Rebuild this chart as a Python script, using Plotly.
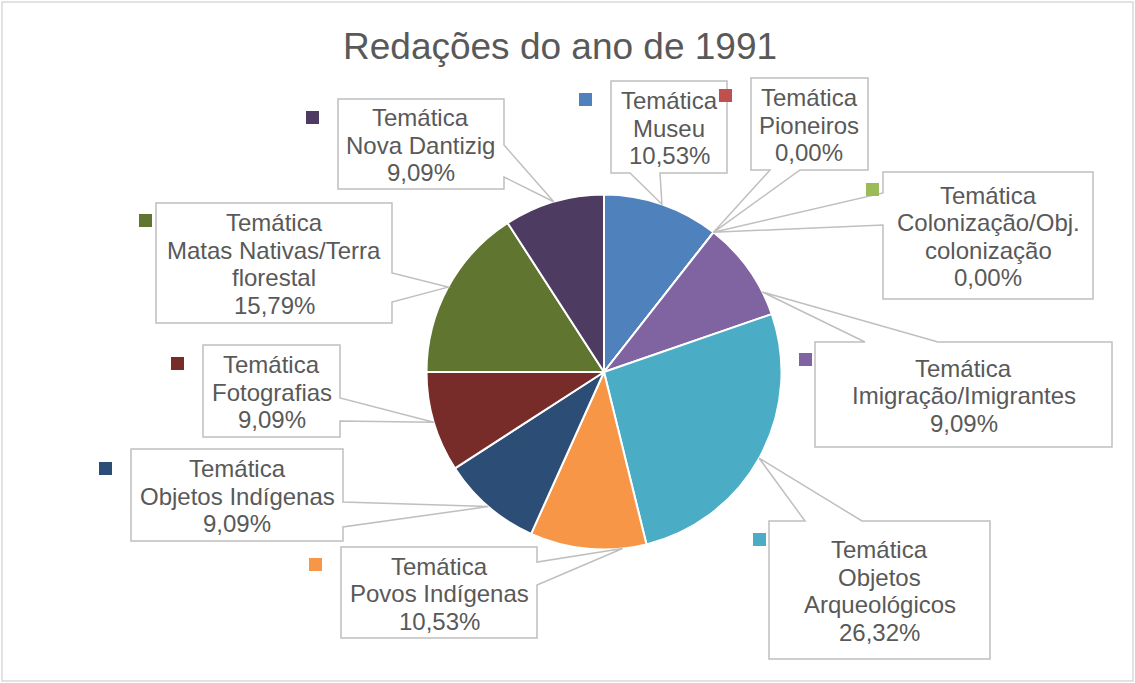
import math
import plotly.graph_objects as go

W, H = 1135, 683

# ---- data -------------------------------------------------------------
categories = [
    "Temática\nMuseu",
    "Temática\nPioneiros",
    "Temática\nColonização/Obj.\ncolonização",
    "Temática\nImigração/Imigrantes",
    "Temática\nObjetos\nArqueológicos",
    "Temática\nPovos Indígenas",
    "Temática\nObjetos Indígenas",
    "Temática\nFotografias",
    "Temática\nMatas Nativas/Terra\nflorestal",
    "Temática\nNova Dantizig",
]
values = [10.53, 0.00, 0.00, 9.09, 26.32, 10.53, 9.09, 9.09, 15.79, 9.09]
colors = ["#4F81BD", "#C0504D", "#9BBB59", "#8064A2", "#4BACC6",
          "#F79646", "#2C4D75", "#772C2A", "#5F7530", "#4D3B62"]
title_text = "Redações do ano de 1991"

# ---- layout (pixels) --------------------------------------------------
CX, CY, R = 604, 372, 177.5          # pie centre and radius
TEXT_COLOR = "#595959"
BOX_LINE = "#BFBFBF"
FONT = "Liberation Sans, Arial, sans-serif"
LABEL_SIZE = 24
LINE_STEP = 27.5
KEY = 13

# callout box, side carrying the pointer, pointer base span, tip angle shift, key square
callouts = [
    dict(box=(611, 81, 727, 173), side="bottom", base=(630, 660), shift=0, key=(579, 93)),
    dict(box=(751, 78, 868, 170), side="bottom", base=(770, 800), shift=0, key=(719, 89)),
    dict(box=(883, 172, 1093, 299), side="left", base=(193, 225), shift=0, key=(866, 183)),
    dict(box=(815, 342, 1112, 447), side="top", base=(865, 938), shift=8.7, key=(799, 353)),
    dict(box=(769, 521, 990, 659), side="top", base=(805, 862), shift=0.5, key=(753, 533)),
    dict(box=(341, 547, 537, 638), side="right", base=(562, 585), shift=-11.2, key=(309, 558)),
    dict(box=(131, 449, 343, 541), side="right", base=(502, 527), shift=0, key=(99, 462)),
    dict(box=(203, 345, 340, 437), side="right", base=(398, 421), shift=0, key=(171, 357)),
    dict(box=(156, 203, 392, 323), side="right", base=(273, 302), shift=0, key=(139, 214)),
    dict(box=(338, 99, 504, 189), side="right", base=(145, 177), shift=0, key=(306, 111)),
]


def px(x, y):
    return x / W, 1 - y / H


def fmt_pct(v):
    return f"{v:.2f}".replace(".", ",") + "%"


fig = go.Figure()

fig.add_trace(go.Pie(
    labels=[c.replace("\n", " ") for c in categories],
    values=values,
    sort=False,
    direction="clockwise",
    rotation=0,
    textinfo="none",
    hoverinfo="label+value",
    marker=dict(colors=colors, line=dict(color="white", width=2)),
    showlegend=False,
    domain=dict(x=[(CX - R) / W, (CX + R) / W],
                y=[(H - CY - R) / H, (H - CY + R) / H]),
))

shapes = []
annotations = []

# outer chart frame
shapes.append(dict(type="rect", xref="paper", yref="paper",
                   x0=2 / W, x1=1133 / W, y0=1 - 681 / H, y1=1 - 2 / H,
                   line=dict(color="#D9D9D9", width=1.5), layer="below"))

total = sum(values)
cum = 0.0
keys = []
for cat, val, col, co in zip(categories, values, colors, callouts):
    mid = (cum + val / 2) / total * 360 + co["shift"]
    cum += val
    a = math.radians(mid)
    tx, ty = CX + R * math.sin(a), CY - R * math.cos(a)

    x0, y0, x1, y1 = co["box"]
    b0, b1 = co["base"]
    side = co["side"]
    pts = [(x0, y0)]
    if side == "top":
        pts += [(b0, y0), (tx, ty), (b1, y0)]
    pts.append((x1, y0))
    if side == "right":
        pts += [(x1, b0), (tx, ty), (x1, b1)]
    pts.append((x1, y1))
    if side == "bottom":
        pts += [(b1, y1), (tx, ty), (b0, y1)]
    pts.append((x0, y1))
    if side == "left":
        pts += [(x0, b1), (tx, ty), (x0, b0)]
    path = "M " + " L ".join(f"{px(x, y)[0]:.5f},{px(x, y)[1]:.5f}" for x, y in pts) + " Z"
    shapes.append(dict(type="path", xref="paper", yref="paper", path=path,
                       fillcolor="white", line=dict(color=BOX_LINE, width=1.5),
                       layer="above"))

    lines = cat.split("\n") + [fmt_pct(val)]
    n = len(lines)
    cx_box = (x0 + x1) / 2
    cy_box = (y0 + y1) / 2
    for i, ln in enumerate(lines):
        yy = cy_box + (i - (n - 1) / 2) * LINE_STEP + 1
        xp, yp = px(cx_box, yy)
        annotations.append(dict(x=xp, y=yp, xref="paper", yref="paper",
                                text=ln, showarrow=False,
                                xanchor="center", yanchor="middle",
                                font=dict(family=FONT, size=LABEL_SIZE, color=TEXT_COLOR)))

    kx, ky = co["key"]
    keys.append(dict(type="rect", xref="paper", yref="paper",
                     x0=kx / W, x1=(kx + KEY) / W,
                     y0=1 - (ky + KEY) / H, y1=1 - ky / H,
                     fillcolor=col, line=dict(width=0), layer="above"))

shapes += keys

xt, yt = px(560, 47)
annotations.append(dict(x=xt, y=yt, xref="paper", yref="paper", text=title_text,
                        showarrow=False, xanchor="center", yanchor="middle",
                        font=dict(family=FONT, size=37, color=TEXT_COLOR)))

fig.update_layout(
    width=W, height=H,
    margin=dict(l=0, r=0, t=0, b=0),
    paper_bgcolor="white",
    plot_bgcolor="white",
    shapes=shapes,
    annotations=annotations,
)

fig.write_html("out.html")
